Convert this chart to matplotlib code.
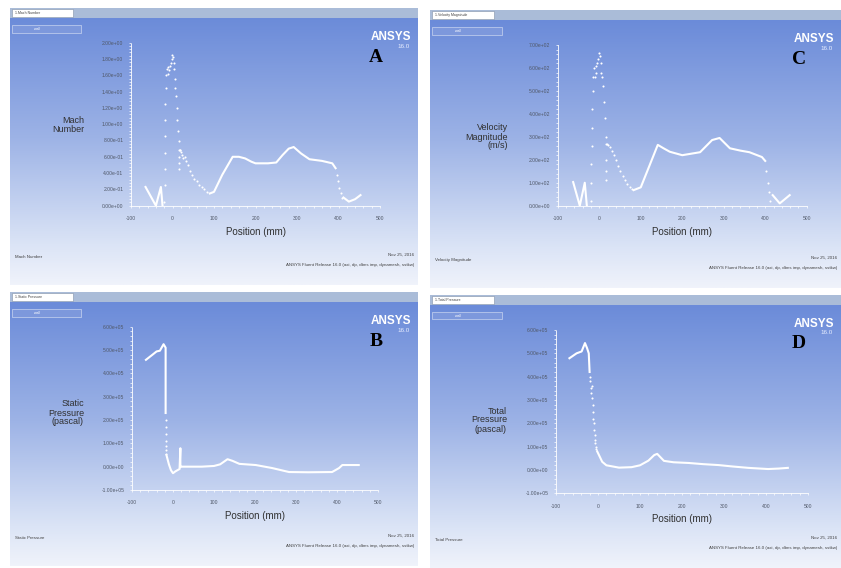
import matplotlib
matplotlib.use("Agg")
import matplotlib.pyplot as plt
import numpy as np
from matplotlib.colors import LinearSegmentedColormap
from matplotlib.ticker import MultipleLocator, AutoMinorLocator, FuncFormatter

plt.rcParams['font.family'] = ['Liberation Sans', 'DejaVu Sans']
plt.rcParams['axes.unicode_minus'] = False

nan = np.nan
x_ticks = [-100, 0, 100, 200, 300, 400, 500]

# Panel A: Mach number
mach_x = [-65, -40, -28, -24, nan, 90, 100, 120, 145, 160, 175, 190, 200, 230, 250, 265,
          280, 292, 310, 330, 360, 385, 393, nan, 412, 425, 440, 453]
mach_y = [0.23, 0.0, 0.23, 0.0, nan, 0.15, 0.17, 0.38, 0.6, 0.6, 0.58, 0.54, 0.52, 0.52,
          0.53, 0.62, 0.7, 0.72, 0.64, 0.57, 0.55, 0.52, 0.46, nan, 0.1, 0.05, 0.08, 0.13]
mach_dot_x = [-20, -19, -19, -18, -18, -17, -17, -16, -15, -14, -12, -10, -8, -6, -4, -2, -1,
              1, 3, 4, 6, 7, 8, 10, 12, 14, 16, 15, 15, 16, 16, 17, 18, 20, 22, 25, 29,
              33, 38, 43, 48, 53, 58, 64, 70, 76, 82, 396, 399, 402, 405, 408]
mach_dot_y = [0.05, 0.25, 0.45, 0.65, 0.85, 1.05, 1.25, 1.45, 1.6, 1.68, 1.62, 1.7, 1.66,
              1.72, 1.75, 1.8, 1.85, 1.82, 1.75, 1.68, 1.55, 1.45, 1.35, 1.2, 1.05, 0.92,
              0.8, 0.68, 0.6, 0.52, 0.45, 0.68, 0.68, 0.66, 0.62, 0.58, 0.6, 0.55, 0.5, 0.42,
              0.38, 0.33, 0.3, 0.26, 0.23, 0.2, 0.17, 0.38, 0.3, 0.22, 0.15, 0.1]

# Panel B: static pressure (Pa)
ps_x = [-66, -50, -40, -32, -23, -18, -18, nan, -16, -10, -5, 0, 6, 12, 16, 18, 18, 20, 40,
        70, 100, 115, 133, 145, 162, 202, 242, 283, 330, 388, 405, 413, 453]
ps_y = [4.58e5, 4.8e5, 4.94e5, 4.97e5, 5.25e5, 5.1e5, 2.3e5, nan, 0.5e5, 0.1e5, -0.15e5,
        -0.28e5, -0.2e5, -0.14e5, -0.1e5, 0.79e5, -0.02e5, 0.0, 0.0, 0.0, 0.03e5, 0.1e5,
        0.32e5, 0.25e5, 0.12e5, 0.07e5, -0.06e5, -0.23e5, -0.24e5, -0.23e5, -0.06e5,
        0.07e5, 0.07e5]
ps_dot_x = [-18, -18, -18, -17, -17, -17, -16]
ps_dot_y = [2.0e5, 1.7e5, 1.4e5, 1.1e5, 0.9e5, 0.7e5, 0.55e5]

# Panel C: velocity magnitude (m/s)
vel_x = [-63, -47, -35, -30, nan, 83, 100, 120, 141, 155, 170, 200, 243, 272, 290, 315,
         340, 362, 392, 400, nan, 418, 435, 459]
vel_y = [103, 0, 100, 0, nan, 68, 80, 170, 265, 250, 235, 220, 233, 286, 295, 250, 240,
         233, 212, 195, nan, 46, 10, 46]
vel_dot_x = [-20, -19, -19, -18, -18, -17, -16, -15, -13, -11, -9, -7, -5, -3, -1, 1, 3, 5,
             7, 9, 11, 13, 15, 16, 16, 17, 17, 19, 22, 26, 30, 35, 40, 45, 50, 56, 62, 68,
             74, 80, 403, 406, 409, 412]
vel_dot_y = [20, 100, 180, 260, 340, 420, 500, 560, 600, 560, 610, 580, 620, 640, 665, 650,
             620, 580, 560, 520, 450, 380, 300, 270, 200, 150, 110, 270, 265, 255, 240,
             220, 200, 175, 150, 130, 110, 95, 82, 72, 150, 100, 60, 20]

# Panel D: total pressure (Pa)
pt_x = [-68, -51, -39, -31, -26, -22, -20, nan, -2, 10, 20, 50, 80, 100, 120, 134, 141,
        157, 180, 216, 250, 287, 320, 358, 405, 430, 452]
pt_y = [4.79e5, 5.0e5, 5.08e5, 5.44e5, 5.22e5, 5.0e5, 4.2e5, nan, 0.8e5, 0.35e5, 0.2e5,
        0.1e5, 0.12e5, 0.2e5, 0.4e5, 0.64e5, 0.69e5, 0.39e5, 0.33e5, 0.3e5, 0.25e5,
        0.21e5, 0.15e5, 0.09e5, 0.04e5, 0.06e5, 0.09e5]
pt_dot_x = [-19, -18, -17, -16, -15, -14, -13, -12, -11, -10, -9, -8, -7, -6, -5, -4]
pt_dot_y = [4.0e5, 3.8e5, 3.5e5, 3.3e5, 3.6e5, 3.1e5, 2.8e5, 2.5e5, 2.2e5, 2.0e5, 1.7e5,
            1.5e5, 1.3e5, 1.15e5, 1.0e5, 0.9e5]

W, H = 841, 568
fig = plt.figure(figsize=(W / 100, H / 100), dpi=100)
fig.patch.set_facecolor('white')

grad = LinearSegmentedColormap.from_list(
    'fluent', [(0.0, '#6b8bd9'), (0.45, '#9db3e6'), (0.85, '#dbe4f6'), (1.0, '#f0f3fb')])


def rect(l, t, r, b):
    return [l / W, 1 - b / H, (r - l) / W, (b - t) / H]


def sci(v, pos):
    return '{:.2e}'.format(v)


def panel(box, plot_box, xdata, ydata, dotx, doty, ylim, ystep, ylabel, letter,
          title, bottom_name, lab_xy):
    l, t, r, b = box
    # background with header bar
    bg = fig.add_axes(rect(l, t + 10, r, b))
    bg.imshow(np.linspace(0, 1, 256).reshape(-1, 1), aspect='auto', cmap=grad,
              extent=[0, 1, 0, 1])
    bg.set_axis_off()
    hd = fig.add_axes(rect(l, t, r, t + 10))
    hd.set_facecolor('#aabcd8')
    hd.set_xticks([])
    hd.set_yticks([])
    for s in hd.spines.values():
        s.set_visible(False)
    hd.add_patch(plt.Rectangle((0.005, 0.1), 0.15, 0.8, facecolor='white',
                               edgecolor='#8090a8', lw=0.4, transform=hd.transAxes))
    hd.text(0.012, 0.5, title, fontsize=2.5, color='#404040', va='center',
            transform=hd.transAxes)
    bg.add_patch(plt.Rectangle((0.005, 0.945), 0.17, 0.03, facecolor='#7d98dc',
                               edgecolor='#c8d4f0', lw=0.5, transform=bg.transAxes))
    bg.text(0.06, 0.958, 'wall', fontsize=2.5, color='white', va='center',
            transform=bg.transAxes)
    fig.text((r - 7) / W, 1 - (t + 29) / H, 'ANSYS', fontsize=8.5, fontweight='bold',
             color='white', ha='right', va='center')
    fig.text((r - 8) / W, 1 - (t + 38) / H, '16.0', fontsize=4.5, color='#e8eeff',
             ha='right', va='center')
    bg.text(0.012, 0.105, bottom_name, fontsize=3.2, color='#404040',
            transform=bg.transAxes, va='center')
    bg.text(0.99, 0.115, 'Nov 25, 2016', fontsize=3.2, color='#404040', ha='right',
            va='center', transform=bg.transAxes)
    bg.text(0.99, 0.075,
            'ANSYS Fluent Release 16.0 (axi, dp, dbns imp, dynamesh, sstkw)',
            fontsize=3.2, color='#404040', ha='right', va='center',
            transform=bg.transAxes)

    ax = fig.add_axes(rect(*plot_box))
    ax.set_facecolor('none')
    ax.plot(xdata, ydata, color='white', lw=1.5, solid_joinstyle='round')
    ax.plot(dotx, doty, 'o', color='white', ms=1.5, mew=0)
    ax.set_xlim(-100, 500)
    ax.set_ylim(*ylim)
    ax.set_xticks(x_ticks)
    ax.yaxis.set_major_locator(MultipleLocator(ystep))
    ax.yaxis.set_major_formatter(FuncFormatter(sci))
    ax.xaxis.set_minor_locator(AutoMinorLocator(5))
    ax.yaxis.set_minor_locator(AutoMinorLocator(5))
    for side in ['top', 'right']:
        ax.spines[side].set_visible(False)
    for side in ['left', 'bottom']:
        ax.spines[side].set_color('white')
        ax.spines[side].set_linewidth(0.6)
        ax.spines[side].set_linestyle((0, (3, 1)))
    ax.tick_params(which='both', colors='white', labelcolor='#505868', labelsize=3.6,
                   direction='out', length=1.5, width=0.5)
    ax.tick_params(axis='x', pad=6)
    ax.tick_params(axis='y', pad=4)
    ax.set_xlabel('Position (mm)', fontsize=7, color='#303030', labelpad=4)
    fig.text(lab_xy[0] / W, 1 - lab_xy[1] / H, ylabel, fontsize=6.5, color='#303030',
             ha='right', va='center', multialignment='right', linespacing=1.0)
    fig.text((r - 42) / W, 1 - (t + 49) / H, letter, fontsize=14, fontweight='bold',
             family='Liberation Serif', color='black', ha='center', va='center')


panel((10, 8, 418, 285), (131, 42.7, 380, 205.7), mach_x, mach_y, mach_dot_x, mach_dot_y,
      (0, 2.0), 0.2, 'Mach\nNumber', 'A', '1.Mach Number', 'Mach Number', (84, 125))
panel((10, 292, 418, 566), (132, 326.7, 378, 490), ps_x, ps_y, ps_dot_x, ps_dot_y,
      (-1e5, 6e5), 1e5, 'Static\nPressure\n(pascal)', 'B', '1.Static Pressure',
      'Static Pressure', (84, 413))
panel((430, 10, 841, 288), (557.8, 45, 806.7, 205.7), vel_x, vel_y, vel_dot_x, vel_dot_y,
      (0, 700), 100, 'Velocity\nMagnitude\n(m/s)', 'C', '1.Velocity Magnitude',
      'Velocity Magnitude', (508, 137))
panel((430, 295, 841, 568), (556, 330, 808, 493.3), pt_x, pt_y, pt_dot_x, pt_dot_y,
      (-1e5, 6e5), 1e5, 'Total\nPressure\n(pascal)', 'D', '1.Total Pressure',
      'Total Pressure', (507, 420))

fig.savefig('out.png', dpi=100)
